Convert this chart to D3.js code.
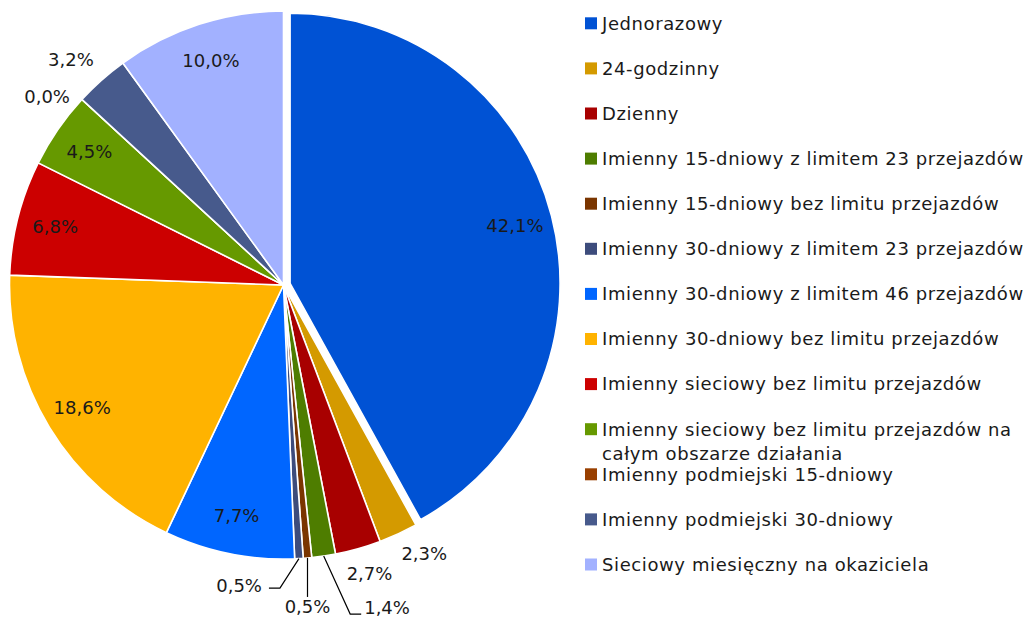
<!DOCTYPE html>
<html><head><meta charset="utf-8">
<script src="https://cdn.jsdelivr.net/npm/d3@7"></script>
<style>body{margin:0;background:#fff;overflow:hidden}</style>
</head><body>
<svg id="chart" width="1028" height="619"></svg>
<script>
// ---- data ----
const categories = [
  "Jednorazowy",
  "24-godzinny",
  "Dzienny",
  "Imienny 15-dniowy z limitem 23 przejazdów",
  "Imienny 15-dniowy bez limitu przejazdów",
  "Imienny 30-dniowy z limitem 23 przejazdów",
  "Imienny 30-dniowy z limitem 46 przejazdów",
  "Imienny 30-dniowy bez limitu przejazdów",
  "Imienny sieciowy bez limitu przejazdów",
  "Imienny sieciowy bez limitu przejazdów na całym obszarze działania",
  "Imienny podmiejski 15-dniowy",
  "Imienny podmiejski 30-dniowy",
  "Sieciowy miesięczny na okaziciela"
];
const values = [42.1, 2.3, 2.7, 1.4, 0.5, 0.5, 7.7, 18.6, 6.8, 4.5, 0.0, 3.2, 10.0];
const colors = ["#0052d4", "#d49a00", "#a80000", "#4e7d00", "#7a3500", "#3d4c7c",
                "#0066ff", "#ffb300", "#cc0000", "#669900", "#993f00", "#475a8c", "#a2b1ff"];

// ---- layout config ----
const W = 1028, H = 619;
const cx = 283.5, cy = 285, R = 274;
const explode = {0: 6.8};
const explodedRadius = {0: 270};
const insideMin = 4.5;
const insideFrac = 0.86;
const outsideR = 305;
const labelNudge = {1: [13, -8], 2: [3, -5], 10: [-12, 18], 11: [-10, 3]};
const leaders = {
  3: {elbow: [26.5, 58], end: [11, 0], anchor: "start", text: [3, -6]},
  4: {elbow: [0, 39], end: [0, 0], anchor: "middle", text: [0, 10]},
  5: {elbow: [-19, 29.5], end: [-11, 0], anchor: "end", text: [-7, -2]}
};
const FONT = "'DejaVu Sans', sans-serif";

const svg = d3.select("#chart");
const fmt = v => d3.format(".1f")(v).replace(".", ",") + "%";

const pie = d3.pie().sort(null).value(d => d)(values);
const g = svg.append("g").attr("transform", `translate(${cx},${cy})`);

const arcFor = d => d3.arc().innerRadius(0).outerRadius(explodedRadius[d.index] ?? R);
const mid = d => (d.startAngle + d.endAngle) / 2;
const offset = d => {
  const e = explode[d.index] || 0;
  return [Math.sin(mid(d)) * e, -Math.cos(mid(d)) * e];
};

g.selectAll("path.slice").data(pie).join("path")
  .attr("class", "slice")
  .attr("transform", d => `translate(${offset(d)})`)
  .attr("d", d => arcFor(d)(d))
  .attr("fill", (d, i) => colors[i])
  .attr("stroke", "#fff")
  .attr("stroke-width", 1.6)
  .attr("stroke-linejoin", "round");

// labels
const lab = g.append("g").attr("font-family", FONT).attr("font-size", 18).attr("fill", "#1a1a1a");
pie.forEach(d => {
  const i = d.index;
  const [ox, oy] = offset(d);
  const rr = explodedRadius[i] ?? R;
  const a = mid(d);
  if (values[i] >= insideMin) {
    const c = d3.arc().innerRadius(rr * insideFrac).outerRadius(rr * insideFrac).centroid(d);
    lab.append("text").attr("x", c[0] + ox).attr("y", c[1] + oy).attr("dy", "0.35em")
      .attr("text-anchor", "middle").text(fmt(values[i]));
  } else if (leaders[i]) {
    const L = leaders[i];
    const edge = [Math.sin(a) * rr, -Math.cos(a) * rr];
    const elbow = [edge[0] + L.elbow[0], edge[1] + L.elbow[1]];
    const end = [elbow[0] + L.end[0], elbow[1] + L.end[1]];
    g.append("path").attr("d", d3.line()([edge, elbow, end]))
      .attr("fill", "none").attr("stroke", "#000").attr("stroke-width", 1.2);
    lab.append("text").attr("x", end[0] + L.text[0]).attr("y", end[1] + L.text[1]).attr("dy", "0.35em")
      .attr("text-anchor", L.anchor).text(fmt(values[i]));
  } else {
    const n = labelNudge[i] || [0, 0];
    const p = [Math.sin(a) * outsideR + n[0], -Math.cos(a) * outsideR + n[1]];
    lab.append("text").attr("x", p[0]).attr("y", p[1]).attr("dy", "0.35em")
      .attr("text-anchor", "middle").text(fmt(values[i]));
  }
});

// legend
const ly = d3.scalePoint().domain(categories).range([23.3, 564.5]);
const lx = 585, sw = 12, tx = 602, maxW = 424, lineH = 24;
const leg = svg.append("g").attr("font-family", FONT).attr("font-size", 18)
  .attr("letter-spacing", "0.6px").attr("fill", "#1a1a1a");
categories.forEach((c, i) => {
  const y = ly(c);
  leg.append("rect").attr("x", lx).attr("y", y - sw / 2).attr("width", sw).attr("height", sw)
    .attr("fill", colors[i]);
  const t = leg.append("text").attr("x", tx).attr("y", y).attr("dy", "0.35em");
  const words = c.split(" ");
  let line = [], lineNo = 0;
  let ts = t.append("tspan").attr("x", tx);
  words.forEach(w => {
    line.push(w);
    ts.text(line.join(" "));
    if (ts.node().getComputedTextLength() > maxW && line.length > 1) {
      line.pop();
      ts.text(line.join(" "));
      line = [w];
      lineNo++;
      ts = t.append("tspan").attr("x", tx).attr("dy", lineH).text(w);
    }
  });
});
</script>
</body></html>
